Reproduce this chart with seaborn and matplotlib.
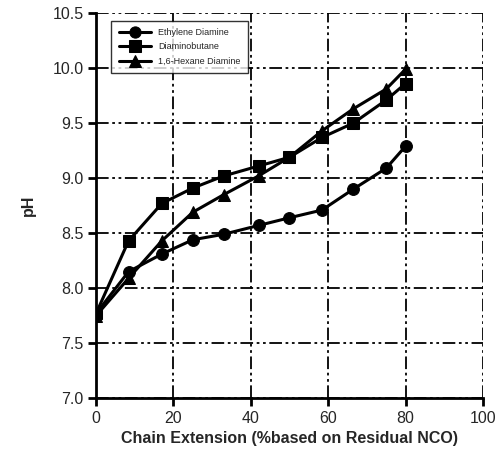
import matplotlib
matplotlib.use("Agg")
import matplotlib.pyplot as plt
import seaborn as sns
import pandas as pd

x_vals = [0, 8.4, 17, 25, 33, 42, 50, 58.4, 66.5, 75, 80]
ethylene = [7.77, 8.15, 8.31, 8.44, 8.49, 8.57, 8.64, 8.71, 8.90, 9.09, 9.29]
butane = [7.77, 8.43, 8.77, 8.91, 9.02, 9.11, 9.19, 9.37, 9.50, 9.71, 9.86]
hexane = [7.75, 8.09, 8.43, 8.69, 8.85, 9.02, 9.19, 9.43, 9.63, 9.81, 9.99]
series_names = ["Ethylene Diamine", "Diaminobutane", "1,6-Hexane Diamine"]

rows = []
for name, vals in zip(series_names, [ethylene, butane, hexane]):
    for xv, yv in zip(x_vals, vals):
        rows.append({"x": xv, "pH": yv, "series": name})
df = pd.DataFrame(rows)

sns.set_style("white")
plt.rcParams["font.family"] = ["Liberation Sans", "DejaVu Sans"]

fig = plt.figure(figsize=(5.03, 4.69), dpi=100)
ax = fig.add_axes([0.191, 0.151, 0.769, 0.821])

markers = {"Ethylene Diamine": "o", "Diaminobutane": "s", "1,6-Hexane Diamine": "^"}
sns.lineplot(data=df, x="x", y="pH", hue="series", style="series",
             palette=["black"] * 3, markers=markers, dashes=False,
             markersize=8.5, linewidth=2.2, ax=ax, sort=False,
             markeredgecolor="black")

ax.set_xlim(0, 100)
ax.set_ylim(7.0, 10.5)
ax.set_xticks([0, 20, 40, 60, 80, 100])
ax.set_yticks([7.0, 7.5, 8.0, 8.5, 9.0, 9.5, 10.0, 10.5])
ax.set_yticklabels(["7.0", "7.5", "8.0", "8.5", "9.0", "9.5", "10.0", "10.5"])
ax.grid(True, color="black", linestyle=(0, (7, 2, 1.5, 2, 1.5, 2)), linewidth=1.3)
for s in ["top", "right"]:
    ax.spines[s].set_visible(False)
for s in ["left", "bottom"]:
    ax.spines[s].set_color("black")
    ax.spines[s].set_linewidth(2)
ax.tick_params(axis="both", direction="out", length=6, width=2, color="black",
               labelsize=11.5, left=True, bottom=True, pad=3)
ax.set_xlabel("Chain Extension (%based on Residual NCO)", fontsize=11.5, fontweight="bold")
ax.set_ylabel("pH", fontsize=11.5, fontweight="bold", labelpad=12)

leg = ax.legend(loc="upper left", bbox_to_anchor=(0.035, 0.985), fontsize=6.5,
                frameon=True, fancybox=False, edgecolor="black", title=None,
                handlelength=3.6, borderpad=0.8, labelspacing=0.6, markerscale=0.95,
                borderaxespad=0.2)
leg.get_frame().set_linewidth(1)

fig.savefig("out.png", dpi=100)
